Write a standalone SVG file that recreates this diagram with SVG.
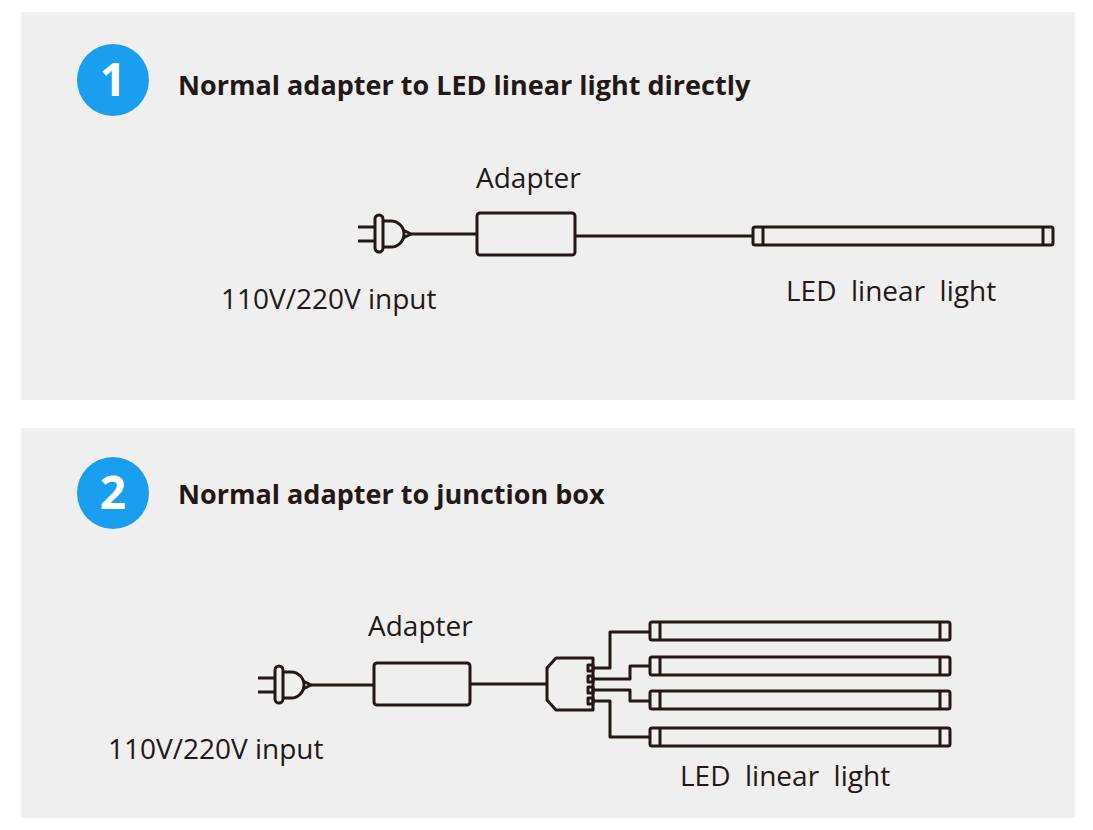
<svg xmlns="http://www.w3.org/2000/svg" width="1093" height="830" viewBox="0 0 1093 830">
<style>
.ln{fill:none;stroke:#231815;stroke-width:3;stroke-linejoin:round}
.t{font-family:"Open Sans","Liberation Sans",sans-serif;fill:#231815;font-size:28px}
.h{font-family:"Open Sans","Liberation Sans",sans-serif;fill:#231815;font-size:27px;font-weight:bold}
.n{font-family:"Open Sans","Liberation Sans",sans-serif;fill:#fff;font-size:46px;font-weight:bold}
</style>
<defs>
<g id="plug">
<path class="ln" d="M0,-7 H17 M0,7 H17" stroke-width="6"/>
<rect class="ln" x="17" y="-19" width="8" height="37" rx="4"/>
<path class="ln" d="M25,-13 H33 A13,13 0 0 1 33,13 H25"/>
<path class="ln" d="M45,-4 L53,0 L45,4"/>
</g>
<g id="light">
<rect class="ln" x="0" y="0" width="300" height="18" rx="2"/>
<path class="ln" d="M10,0 V18 M290,0 V18"/>
</g>
</defs>
<rect x="21" y="12" width="1054" height="388" fill="#efefef"/>
<rect x="21" y="428" width="1054" height="390" fill="#efefef"/>
<g id="badge1"><circle cx="113" cy="80" r="36" fill="#1a9ff0"/><text class="n" x="113" y="96" text-anchor="middle">1</text></g>
<text class="h" x="178" y="95">Normal adapter to LED linear light directly</text>
<g id="badge2"><circle cx="113" cy="493" r="36" fill="#1a9ff0"/><text class="n" x="113" y="509" text-anchor="middle">2</text></g>
<text class="h" x="178" y="504">Normal adapter to junction box</text>
<g id="plug1"><use href="#plug" x="358" y="234"/><text class="t" x="221" y="309">110V/220V input</text></g>
<g id="adapter1"><rect class="ln" x="477" y="213" width="98" height="42" rx="3"/><text class="t" x="476" y="188">Adapter</text></g>
<g id="lightA"><use href="#light" x="753" y="227"/><text class="t" x="786" y="301" xml:space="preserve">LED  linear  light</text></g>
<g id="plug2"><use href="#plug" x="258" y="685"/><text class="t" x="108" y="759">110V/220V input</text></g>
<g id="adapter2"><rect class="ln" x="374" y="663" width="96" height="42" rx="3"/><text class="t" x="368" y="636">Adapter</text></g>
<g id="jbox"><path class="ln" d="M556,658 H593 V710 H556 L547,700 V668 Z"/>
<rect class="ln" x="588" y="665" width="5" height="6" stroke-width="2"/>
<rect class="ln" x="588" y="676" width="5" height="6" stroke-width="2"/>
<rect class="ln" x="588" y="687" width="5" height="6" stroke-width="2"/>
<rect class="ln" x="588" y="698" width="5" height="6" stroke-width="2"/></g>
<g id="lights"><use href="#light" x="650" y="622"/><use href="#light" x="650" y="657"/><use href="#light" x="650" y="691"/><use href="#light" x="650" y="728"/>
<text class="t" x="680" y="786" xml:space="preserve">LED  linear  light</text></g>
<g id="connectors">
<path class="ln" d="M411,234 H477"/>
<path class="ln" d="M575,236 H753"/>
<path class="ln" d="M311,685 H374"/>
<path class="ln" d="M470,684 H547"/>
<path class="ln" d="M593,668 H610 V632 H650"/>
<path class="ln" d="M593,679 H630 V666 H650"/>
<path class="ln" d="M593,690 H630 V701 H650"/>
<path class="ln" d="M593,701 H610 V737 H650"/>
</g>
</svg>
